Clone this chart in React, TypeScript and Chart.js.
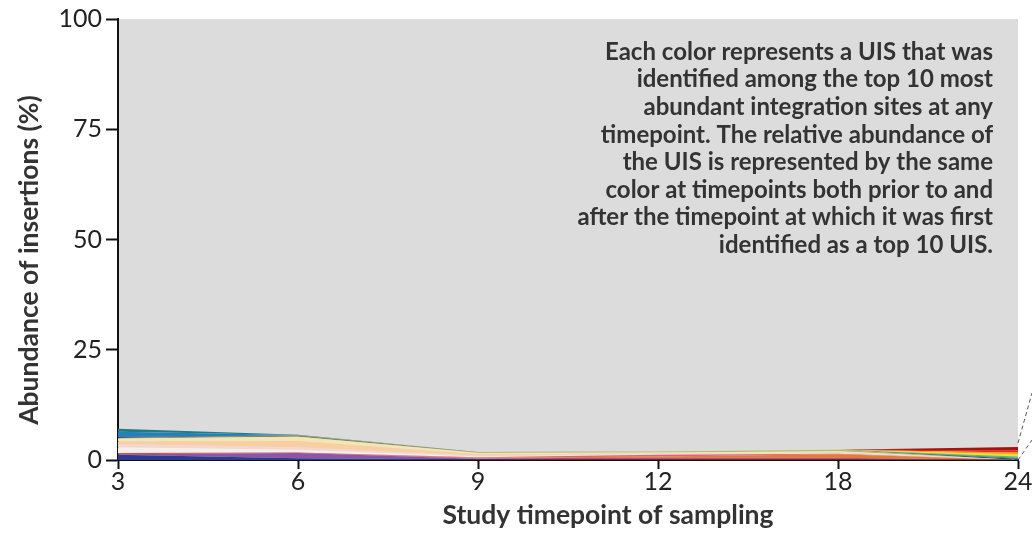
import React, { useEffect, useRef } from 'react';
import { Chart, registerables } from 'chart.js';

Chart.register(...registerables);

// Sampling timepoints (months)
const timepoints = ['3', '6', '9', '12', '18', '24'];

// Relative abundance (%) of each tracked UIS, stacked bottom to top
const uisNavy = [1.2, 0.4, 0.1, 0.1, 0.1, 0];
const uisPurple = [0.1, 1.2, 0.2, 0, 0, 0];
const uisRed = [0.3, 0.1, 0.1, 0.4, 0.4, 0];
const uisOrange = [0, 0, 0.1, 0.3, 0.8, 0];
const uisRose = [0, 0, 0.1, 0.4, 0.1, 0];
const uisIvory = [1.3, 0.6, 0.2, 0.1, 0.1, 0];
const uisBlush = [0.7, 0.6, 0.3, 0.1, 0.1, 0];
const uisPeach = [0.6, 1.4, 0.2, 0.1, 0.1, 0];
const uisCream = [0.7, 1.0, 0.3, 0.2, 0.3, 0];
const uisLime = [0, 0, 0.1, 0.2, 0.3, 0];
const uisOlive = [0.1, 0.3, 0.1, 0, 0, 0];
const uisSlate = [0.2, 0, 0, 0, 0, 0];
const uisBlue = [1.2, 0.05, 0, 0, 0, 0];
const uisTeal = [0.7, 0.05, 0, 0, 0, 0];
const uisCobalt = [0, 0, 0, 0, 0, 0.3];
const uisJade = [0, 0, 0, 0, 0, 0.2];
const uisGreen = [0, 0, 0, 0, 0, 0.3];
const uisYellow = [0, 0, 0, 0, 0, 0.45];
const uisAmber = [0, 0, 0, 0, 0, 0.45];
const uisScarlet = [0, 0, 0, 0, 0, 0.5];
const uisCrimson = [0, 0, 0, 0, 0, 0.75];

// Y axis ticks (%)
const yTickValues = [0, 25, 50, 75, 100];

const noteLines = [
  'Each color represents a UIS that was',
  'identified among the top 10 most',
  'abundant integration sites at any',
  'timepoint. The relative abundance of',
  'the UIS is represented by the same',
  'color at timepoints both prior to and',
  'after the timepoint at which it was first',
  'identified as a top 10 UIS.',
];
const xTitle = 'Study timepoint of sampling';
const yTitle = 'Abundance of insertions (%)';

const series: { name: string; color: string; values: number[] }[] = [
  { name: 'UIS navy', color: '#2e3b8c', values: uisNavy },
  { name: 'UIS purple', color: '#8e54a6', values: uisPurple },
  { name: 'UIS red', color: '#d84a4a', values: uisRed },
  { name: 'UIS orange', color: '#e27a3a', values: uisOrange },
  { name: 'UIS rose', color: '#e0607a', values: uisRose },
  { name: 'UIS ivory', color: '#f5efe9', values: uisIvory },
  { name: 'UIS blush', color: '#f6d5cc', values: uisBlush },
  { name: 'UIS peach', color: '#f7cfa2', values: uisPeach },
  { name: 'UIS cream', color: '#f4e6b4', values: uisCream },
  { name: 'UIS lime', color: '#b2bd5e', values: uisLime },
  { name: 'UIS olive', color: '#8c875a', values: uisOlive },
  { name: 'UIS slate', color: '#2d4f7c', values: uisSlate },
  { name: 'UIS blue', color: '#2380b8', values: uisBlue },
  { name: 'UIS teal', color: '#1f7d82', values: uisTeal },
  { name: 'UIS cobalt', color: '#1d4fa3', values: uisCobalt },
  { name: 'UIS jade', color: '#13968c', values: uisJade },
  { name: 'UIS green', color: '#77b843', values: uisGreen },
  { name: 'UIS yellow', color: '#f4e02a', values: uisYellow },
  { name: 'UIS amber', color: '#f5a21b', values: uisAmber },
  { name: 'UIS scarlet', color: '#e3251c', values: uisScarlet },
  { name: 'UIS crimson', color: '#a4140f', values: uisCrimson },
];

const FONT = 'Lato, "Open Sans", sans-serif';

// Grey plotting panel behind the stacked areas
const panelBackground = {
  id: 'panelBackground',
  beforeDraw(chart: any) {
    const { ctx, chartArea } = chart;
    ctx.save();
    ctx.fillStyle = '#dcdcdc';
    ctx.fillRect(chartArea.left, chartArea.top, chartArea.right - chartArea.left, chartArea.bottom - chartArea.top);
    ctx.restore();
  },
};

// Explanatory note, axis titles and the dashed call-out lines
const overlay = {
  id: 'overlay',
  afterDraw(chart: any) {
    const { ctx, chartArea } = chart;
    ctx.save();
    ctx.fillStyle = '#333333';
    ctx.font = `bold 24px ${FONT}`;
    ctx.textAlign = 'right';
    ctx.textBaseline = 'middle';
    noteLines.forEach((line, i) => {
      ctx.fillText(line, 993, 52 + i * 27.6);
    });

    ctx.font = `bold 26.5px ${FONT}`;
    ctx.textAlign = 'center';
    ctx.fillText(xTitle, 608, 515);

    ctx.save();
    ctx.translate(29, 260);
    ctx.rotate(-Math.PI / 2);
    ctx.fillText(yTitle, 0, 0);
    ctx.restore();

    ctx.strokeStyle = '#555555';
    ctx.lineWidth = 1;
    ctx.setLineDash([4, 3]);
    ctx.beginPath();
    ctx.moveTo(chartArea.right, chartArea.bottom);
    ctx.lineTo(1032, 440);
    ctx.moveTo(chartArea.right, 443);
    ctx.lineTo(1032, 393);
    ctx.stroke();
    ctx.restore();
  },
};

export default function App() {
  const canvasRef = useRef<HTMLCanvasElement | null>(null);

  useEffect(() => {
    const canvas = canvasRef.current;
    if (!canvas) return;
    const chart = new Chart(canvas, {
      type: 'line',
      data: {
        labels: timepoints,
        datasets: series.map((s, i) => ({
          label: s.name,
          data: s.values,
          backgroundColor: s.color,
          borderColor: 'rgba(0,0,0,0)',
          borderWidth: 0,
          pointRadius: 0,
          tension: 0,
          fill: i === 0 ? 'origin' : '-1',
        })),
      },
      options: {
        animation: false,
        responsive: false,
        devicePixelRatio: 1,
        layout: { padding: { left: 0, right: 14, top: 17, bottom: 0 } },
        plugins: {
          legend: { display: false },
          tooltip: { enabled: false },
        },
        scales: {
          x: {
            type: 'category',
            offset: false,
            afterFit: (scale: any) => {
              scale.height = 77;
            },
            border: { display: true, color: '#111111', width: 2 },
            grid: {
              display: true,
              drawOnChartArea: false,
              drawTicks: true,
              tickLength: 9,
              tickColor: '#111111',
              tickWidth: 2,
            },
            ticks: {
              color: '#222222',
              font: { family: FONT, size: 25 },
              padding: -2,
              maxRotation: 0,
              autoSkip: false,
            },
          },
          y: {
            stacked: true,
            min: 0,
            max: 100,
            afterFit: (scale: any) => {
              scale.width = 118;
            },
            afterBuildTicks: (scale: any) => {
              scale.ticks = yTickValues.map((v) => ({ value: v }));
            },
            border: { display: true, color: '#111111', width: 2 },
            grid: {
              display: true,
              drawOnChartArea: false,
              drawTicks: true,
              tickLength: 12,
              tickColor: '#111111',
              tickWidth: 2,
            },
            ticks: {
              color: '#222222',
              font: { family: FONT, size: 25 },
              padding: 4,
            },
          },
        },
      },
      plugins: [panelBackground, overlay],
    });
    return () => chart.destroy();
  }, []);

  return (
    <div style={{ position: 'fixed', left: 0, top: 0, width: 1032, height: 537, background: '#ffffff' }}>
      <canvas ref={canvasRef} width={1032} height={537} style={{ display: 'block' }} />
    </div>
  );
}
